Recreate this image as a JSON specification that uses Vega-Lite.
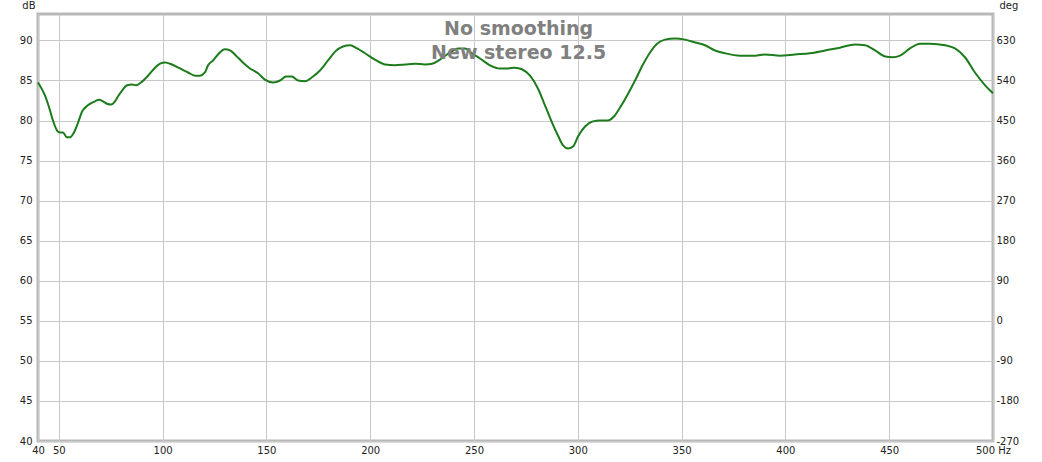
{
  "$schema": "https://vega.github.io/schema/vega-lite/v6.json",
  "width": 955,
  "height": 427,
  "autosize": {"type": "none"},
  "padding": {"left": 38, "top": 14, "right": 49, "bottom": 21},
  "background": "white",
  "config": {
    "view": {"stroke": "#b8b8b8", "strokeWidth": 3},
    "axis": {"labelFont": "DejaVu Sans", "labelFontSize": 10, "labelColor": "#222", "titleFont": "DejaVu Sans", "titleFontSize": 10, "titleFontWeight": "normal", "titleColor": "#222", "gridColor": "#c8c8c8", "gridWidth": 1, "ticks": false, "domain": false}
  },
  "datasets": {
    "curve": [
    {"hz": 40, "db": 84.75}, {"hz": 43.4, "db": 83.1}, {"hz": 45.8, "db": 81.25}, {"hz": 47.2, "db": 80},
    {"hz": 49.2, "db": 78.75}, {"hz": 50.6, "db": 78.5}, {"hz": 52, "db": 78.5}, {"hz": 54, "db": 77.9},
    {"hz": 55.4, "db": 77.9}, {"hz": 57.3, "db": 78.5}, {"hz": 59.3, "db": 79.75}, {"hz": 61.2, "db": 81.1},
    {"hz": 64, "db": 81.9}, {"hz": 67.5, "db": 82.4}, {"hz": 69.4, "db": 82.6}, {"hz": 71.3, "db": 82.4},
    {"hz": 73.2, "db": 82.1}, {"hz": 75.2, "db": 82}, {"hz": 77.1, "db": 82.4}, {"hz": 78.5, "db": 83},
    {"hz": 80.5, "db": 83.75}, {"hz": 82.9, "db": 84.4}, {"hz": 85.3, "db": 84.5}, {"hz": 87.2, "db": 84.4},
    {"hz": 89.6, "db": 84.75}, {"hz": 93, "db": 85.6}, {"hz": 96.4, "db": 86.6}, {"hz": 98.8, "db": 87.1},
    {"hz": 101.2, "db": 87.25}, {"hz": 104.5, "db": 87}, {"hz": 108.4, "db": 86.5}, {"hz": 112.3, "db": 86},
    {"hz": 115.6, "db": 85.6}, {"hz": 118, "db": 85.6}, {"hz": 120.4, "db": 86}, {"hz": 121.9, "db": 86.9},
    {"hz": 124.3, "db": 87.5}, {"hz": 126.7, "db": 88.25}, {"hz": 130, "db": 88.9}, {"hz": 132.5, "db": 88.75},
    {"hz": 135.4, "db": 88.1}, {"hz": 138.7, "db": 87.25}, {"hz": 142.1, "db": 86.5}, {"hz": 146, "db": 85.9},
    {"hz": 149.3, "db": 85.1}, {"hz": 153.2, "db": 84.75}, {"hz": 156.6, "db": 85}, {"hz": 159.5, "db": 85.5},
    {"hz": 162.3, "db": 85.5}, {"hz": 165.2, "db": 85}, {"hz": 168.6, "db": 84.9}, {"hz": 172, "db": 85.4},
    {"hz": 175.8, "db": 86.25}, {"hz": 179.7, "db": 87.5}, {"hz": 183.1, "db": 88.6}, {"hz": 186.9, "db": 89.25},
    {"hz": 190.3, "db": 89.4}, {"hz": 193.7, "db": 89}, {"hz": 197.5, "db": 88.4}, {"hz": 202.3, "db": 87.6},
    {"hz": 207.1, "db": 87}, {"hz": 211.9, "db": 86.9}, {"hz": 216.8, "db": 87}, {"hz": 221.6, "db": 87.1},
    {"hz": 226.4, "db": 87}, {"hz": 229.8, "db": 87.1}, {"hz": 233.6, "db": 87.6}, {"hz": 238.5, "db": 88.5},
    {"hz": 242.3, "db": 89}, {"hz": 245.7, "db": 89}, {"hz": 249, "db": 88.4}, {"hz": 252.9, "db": 87.75},
    {"hz": 257.7, "db": 86.9}, {"hz": 262.5, "db": 86.5}, {"hz": 265.9, "db": 86.5}, {"hz": 269.8, "db": 86.6},
    {"hz": 273.1, "db": 86.4}, {"hz": 277, "db": 85.6}, {"hz": 280.8, "db": 84}, {"hz": 284.2, "db": 81.9},
    {"hz": 287.6, "db": 79.75}, {"hz": 290.5, "db": 78.1}, {"hz": 292.9, "db": 76.9}, {"hz": 295.3, "db": 76.5},
    {"hz": 297.7, "db": 76.75}, {"hz": 300.1, "db": 78}, {"hz": 303.5, "db": 79.25}, {"hz": 307.3, "db": 79.9},
    {"hz": 310.7, "db": 80}, {"hz": 314.5, "db": 80}, {"hz": 317.4, "db": 80.5}, {"hz": 320.3, "db": 81.6},
    {"hz": 323.7, "db": 83.1}, {"hz": 327.6, "db": 85}, {"hz": 331.4, "db": 87}, {"hz": 334.8, "db": 88.5},
    {"hz": 338.2, "db": 89.6}, {"hz": 342, "db": 90.1}, {"hz": 346.8, "db": 90.25}, {"hz": 351.7, "db": 90.1},
    {"hz": 356.5, "db": 89.75}, {"hz": 361.3, "db": 89.4}, {"hz": 366.1, "db": 88.75}, {"hz": 370.9, "db": 88.4},
    {"hz": 378.2, "db": 88.1}, {"hz": 385.4, "db": 88.1}, {"hz": 390.2, "db": 88.25}, {"hz": 397.4, "db": 88.1},
    {"hz": 404.6, "db": 88.25}, {"hz": 411.9, "db": 88.4}, {"hz": 419.1, "db": 88.75}, {"hz": 426.3, "db": 89.1},
    {"hz": 433.6, "db": 89.5}, {"hz": 438.4, "db": 89.4}, {"hz": 443.2, "db": 88.75}, {"hz": 448, "db": 88},
    {"hz": 451.8, "db": 87.9}, {"hz": 455.2, "db": 88.1}, {"hz": 460, "db": 89}, {"hz": 464.8, "db": 89.6},
    {"hz": 469.6, "db": 89.6}, {"hz": 476.9, "db": 89.4}, {"hz": 481.7, "db": 89}, {"hz": 486.5, "db": 87.9},
    {"hz": 491.3, "db": 86}, {"hz": 496.2, "db": 84.4}, {"hz": 500, "db": 83.4}
    ],
    "labels": [
      {"text": "No smoothing", "hz": 271.5, "db": 91.45},
      {"text": "New stereo 12.5", "hz": 271.5, "db": 88.45}
    ]
  },
  "data": {"name": "curve"},
  "encoding": {
    "x": {"field": "hz", "type": "quantitative",
      "scale": {"domain": [40, 500], "nice": false, "zero": false},
      "axis": {"values": [40, 50, 100, 150, 200, 250, 300, 350, 400, 450, 500], "title": null, "labelPadding": 4,
        "labelExpr": "datum.value == 500 ? '500 Hz' : datum.label", "labelOverlap": false, "labelFlush": false}}
  },
  "layer": [
    {
      "mark": {"type": "line", "color": "#1c7c1c", "strokeWidth": 2, "interpolate": "monotone"},
      "encoding": {
        "y": {"field": "db", "type": "quantitative",
          "scale": {"domain": [40, 93.3], "nice": false, "zero": false},
          "axis": {"orient": "left", "values": [40, 45, 50, 55, 60, 65, 70, 75, 80, 85, 90], "labelPadding": 6,
            "title": "dB", "titleAngle": 0, "titleAlign": "right", "titleBaseline": "alphabetic", "titleX": -3, "titleY": -6}}
      }
    },
    {
      "mark": {"type": "line", "opacity": 0},
      "encoding": {
        "y": {"field": "db", "type": "quantitative",
          "scale": {"domain": [40, 93.3], "nice": false, "zero": false},
          "axis": {"orient": "right", "grid": false, "values": [40, 45, 50, 55, 60, 65, 70, 75, 80, 85, 90], "labelPadding": 3,
            "labelExpr": "'' + ((datum.value - 90) * 18 + 630)",
            "title": "deg", "titleAngle": 0, "titleAlign": "left", "titleBaseline": "alphabetic", "titleX": 6, "titleY": -6}}
      }
    },
    {
      "data": {"name": "labels"},
      "mark": {"type": "text", "font": "DejaVu Sans", "fontSize": 19, "fontWeight": "bold", "color": "#808080", "align": "center", "baseline": "middle"},
      "encoding": {
        "y": {"field": "db", "type": "quantitative", "scale": {"domain": [40, 93.3], "nice": false, "zero": false}, "axis": null},
        "text": {"field": "text"}
      }
    }
  ],
  "resolve": {"axis": {"y": "independent"}}
}
